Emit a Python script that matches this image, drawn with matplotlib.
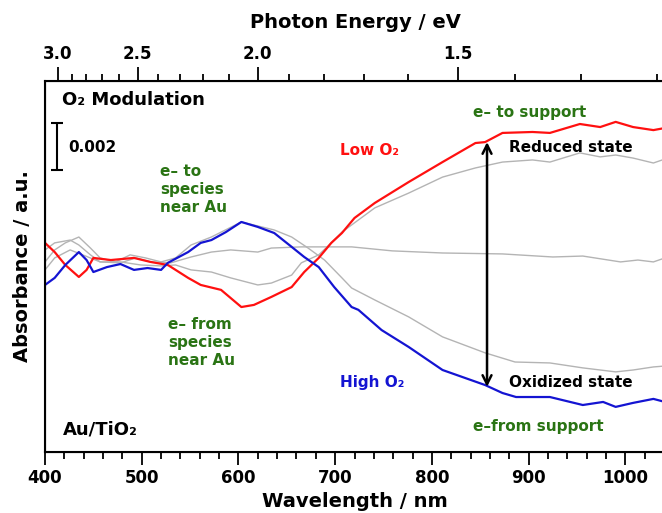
"""
Au/TiO2 - O2 modulation difference spectra (Low / High O2 and intermediates)
"""

import numpy as np
import matplotlib
matplotlib.use("Agg")
import matplotlib.pyplot as plt

plt.rcParams["font.family"] = ["DejaVu Sans"]

HC = 1239.84  # eV * nm

# ─────────────────────────────────────────────────────────────
# Data (absorbance in units of 1e-3)
# ─────────────────────────────────────────────────────────────
wl_low = [400, 410, 421, 435, 443, 450, 468, 492, 509, 527, 548, 561, 582, 603, 616,
          634, 655, 668, 683, 696, 707, 720, 741, 776, 811, 845, 855, 873, 904, 922,
          953, 974, 990, 1008, 1029, 1041]
abs_low = [0.94, 0.55, 0.00, -0.51, -0.21, 0.30, 0.21, 0.30, 0.13, 0.00, -0.55, -0.85,
           -1.06, -1.79, -1.70, -1.36, -0.94, -0.30, 0.30, 0.94, 1.36, 2.00, 2.64, 3.53,
           4.38, 5.19, 5.23, 5.62, 5.66, 5.62, 6.00, 5.87, 6.09, 5.87, 5.74, 5.83]

wl_high = [400, 410, 421, 435, 443, 450, 464, 478, 492, 506, 520, 527, 548, 561, 572,
           587, 603, 620, 637, 655, 668, 683, 699, 717, 724, 748, 776, 811, 855, 873,
           887, 922, 956, 977, 990, 1008, 1029, 1041]
abs_high = [-0.85, -0.55, 0.00, 0.55, 0.21, -0.30, -0.09, 0.04, -0.21, -0.13, -0.21,
            0.09, 0.55, 0.94, 1.06, 1.40, 1.83, 1.62, 1.36, 0.77, 0.34, -0.09, -0.94,
            -1.79, -1.91, -2.77, -3.49, -4.47, -5.11, -5.45, -5.62, -5.62, -5.96, -5.83,
            -6.04, -5.87, -5.70, -5.83]

# intermediate spectra (grey)
wl_g1 = [400, 410, 426, 442, 457, 478, 499, 520, 535, 551, 572, 592, 620, 634, 655,
         665, 683, 696, 707, 741, 776, 811, 845, 873, 904, 922, 953, 974, 990, 1008,
         1029, 1041]
abs_g1 = [-0.21, 0.30, 0.64, 0.38, 0.13, 0.13, 0.00, -0.04, 0.00, -0.21, -0.30, -0.55,
          -0.85, -0.77, -0.43, 0.09, 0.43, 0.94, 1.40, 2.43, 3.06, 3.74, 4.13, 4.38,
          4.47, 4.38, 4.77, 4.60, 4.68, 4.55, 4.34, 4.51]

wl_g2 = [400, 410, 426, 435, 447, 457, 478, 494, 509, 530, 551, 572, 592, 620, 634,
         665, 717, 759, 811, 873, 925, 956, 995, 1013, 1029, 1041]
abs_g2 = [0.64, 0.94, 1.06, 0.85, 0.43, 0.13, 0.09, 0.30, 0.13, 0.09, 0.34, 0.55, 0.64,
          0.55, 0.72, 0.77, 0.77, 0.60, 0.51, 0.47, 0.34, 0.38, 0.13, 0.21, 0.13, 0.30]

wl_g3 = [400, 410, 421, 435, 447, 457, 473, 488, 504, 520, 535, 551, 572, 603, 637,
         655, 672, 689, 707, 717, 741, 776, 811, 855, 886, 922, 956, 990, 1008, 1029,
         1041]
abs_g3 = [0.13, 0.64, 0.94, 1.19, 0.72, 0.30, 0.13, 0.43, 0.30, 0.13, 0.30, 0.85, 1.19,
          1.83, 1.49, 1.19, 0.72, 0.21, -0.55, -0.98, -1.49, -2.21, -3.06, -3.74, -4.13,
          -4.17, -4.38, -4.55, -4.47, -4.34, -4.30]

ev_major = [3.0, 2.5, 2.0, 1.5]
ev_minor = [2.9, 2.8, 2.7, 2.6, 2.4, 2.3, 2.2, 2.1, 1.9, 1.8, 1.7, 1.6, 1.4, 1.3, 1.2]

RED = "#ff1010"
BLUE = "#1414d2"
GREY = "#b4b4b4"
GREEN = "#2a7414"

# ─────────────────────────────────────────────────────────────
# Plot
# ─────────────────────────────────────────────────────────────
fig = plt.figure(figsize=(6.62, 5.13), dpi=100)
ax = fig.add_axes([45 / 662, 61 / 513, 620 / 662, 371 / 513])

for wl, a in [(wl_g1, abs_g1), (wl_g2, abs_g2), (wl_g3, abs_g3)]:
    ax.plot(wl, a, color=GREY, lw=1.0)
ax.plot(wl_low, abs_low, color=RED, lw=1.6)
ax.plot(wl_high, abs_high, color=BLUE, lw=1.6)

ax.set_xlim(400, 1041)
ax.set_ylim(-7.96, 7.83)
ax.set_yticks([])
ax.spines["right"].set_visible(False)
for s in ["left", "bottom", "top"]:
    ax.spines[s].set_linewidth(1.5)

ax.set_xticks(np.arange(400, 1001, 100))
ax.set_xticks(np.arange(420, 1041, 20), minor=True)
ax.tick_params(axis="x", which="major", direction="out", length=9, width=1.3,
               labelsize=12, pad=3)
ax.tick_params(axis="x", which="minor", direction="out", length=5, width=1.3)
for lab in ax.get_xticklabels():
    lab.set_fontweight("bold")
ax.set_xlabel("Wavelength / nm", fontsize=14, fontweight="bold", labelpad=4)
ax.set_ylabel("Absorbance / a.u.", fontsize=14, fontweight="bold", labelpad=9)

# photon energy axis on top
top = ax.twiny()
top.set_xlim(ax.get_xlim())
top.set_xticks([HC / e for e in ev_major])
top.set_xticklabels([f"{e:.1f}" for e in ev_major], fontweight="bold")
top.set_xticks([HC / e for e in ev_minor], minor=True)
top.tick_params(axis="x", which="major", direction="out", length=10, width=1.3,
                labelsize=12, pad=3)
top.tick_params(axis="x", which="minor", direction="out", length=5, width=1.3)
top.spines["right"].set_visible(False)
top.set_xlabel("Photon Energy / eV", fontsize=14, fontweight="bold", labelpad=12)

# scale bar 0.002
ax.errorbar([412.5], [5.04], yerr=[1.0], color="black", lw=1.5, capsize=4, capthick=1.5)
ax.text(424, 4.98, "0.002", fontsize=11, fontweight="bold", va="center", ha="left")

# double arrow between reduced and oxidized states
ax.annotate("", xy=(857, 5.23), xytext=(857, -5.19),
            arrowprops=dict(arrowstyle="<->", color="black", lw=1.8,
                            mutation_scale=16, shrinkA=0, shrinkB=0))

# labels
ax.text(418, 7.02, "O₂ Modulation", fontsize=13, fontweight="bold", va="center")
ax.text(418, -6.99, "Au/TiO₂", fontsize=13, fontweight="bold", va="center")
ax.text(519, 3.23, "e– to\nspecies\nnear Au", color=GREEN, fontsize=11,
        fontweight="bold", va="center", ha="left", linespacing=1.25)
ax.text(527, -3.32, "e– from\nspecies\nnear Au", color=GREEN, fontsize=11,
        fontweight="bold", va="center", ha="left", linespacing=1.25)
ax.text(705, 4.89, "Low O₂", color=RED, fontsize=11, fontweight="bold", va="center")
ax.text(705, -5.02, "High O₂", color=BLUE, fontsize=11, fontweight="bold", va="center")
ax.text(842, 6.51, "e– to support", color=GREEN, fontsize=11, fontweight="bold",
        va="center")
ax.text(880, 5.02, "Reduced state", color="black", fontsize=11, fontweight="bold",
        va="center")
ax.text(880, -5.02, "Oxidized state", color="black", fontsize=11, fontweight="bold",
        va="center")
ax.text(842, -6.87, "e–from support", color=GREEN, fontsize=11, fontweight="bold",
        va="center")

fig.savefig("out.png", dpi=100)
